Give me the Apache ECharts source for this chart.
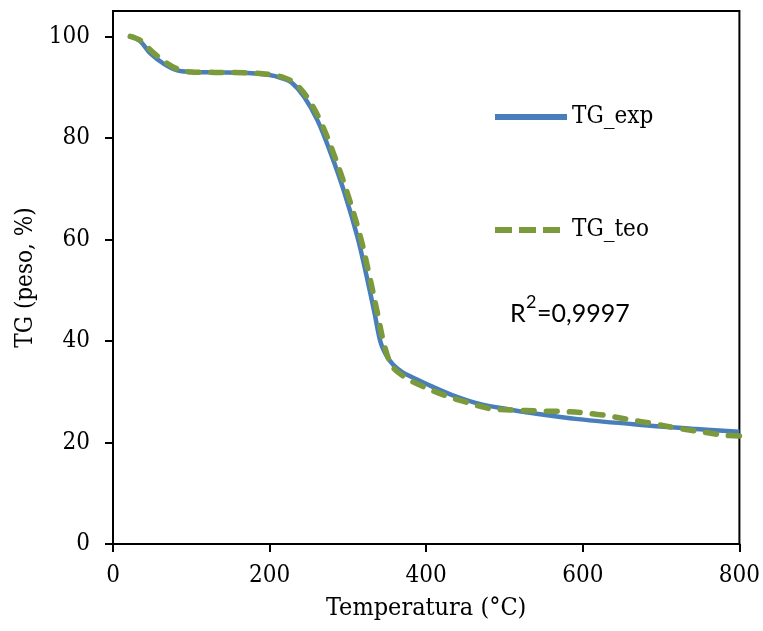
<!DOCTYPE html>
<html>
<head>
<meta charset="utf-8">
<script src="https://cdn.jsdelivr.net/npm/echarts@6/dist/echarts.min.js"></script>
<style>
  html, body { margin: 0; padding: 0; background: #fff; }
  #chart { width: 763px; height: 631px; }
</style>
</head>
<body>
<div id="chart"></div>
<script>
// Experimental thermogravimetric curve (temperature in °C, mass in %)
const tempExp = [24, 35, 48, 65, 82, 100, 130, 172, 200, 215, 228, 244, 261, 278, 295, 312, 323, 334, 342, 350, 358, 370, 391, 412, 434, 468, 506, 530, 594, 679, 740, 800];
const tgExp   = [100, 99, 96.6, 94.6, 93.3, 93.0, 92.9, 92.8, 92.4, 91.8, 90.9, 88.1, 83.5, 77.0, 69.5, 60.6, 53.4, 45.5, 39.6, 36.9, 35.3, 33.8, 32.2, 30.7, 29.3, 27.6, 26.5, 25.9, 24.6, 23.4, 22.7, 22.1];

// Theoretical (fitted) curve
const tempTeo = [22, 35, 50, 68, 85, 100, 130, 172, 200, 218, 232, 248, 265, 282, 299, 316, 327, 338, 346, 355, 366, 385, 425, 450, 480, 510, 544, 575, 604, 630, 659, 690, 723, 760, 782, 800];
const tgTeo   = [100, 99.2, 97, 94.8, 93.4, 93.0, 92.9, 92.8, 92.5, 91.9, 90.8, 88.0, 83.3, 76.8, 69.3, 60.5, 53.2, 45.3, 39.5, 35.4, 33.6, 31.8, 29.2, 28.0, 26.7, 26.4, 26.2, 26.1, 25.8, 25.3, 24.5, 23.7, 22.75, 21.9, 21.4, 21.3];

// Axis ticks
const xTicks = [0, 200, 400, 600, 800];
const yTicks = [0, 20, 40, 60, 80, 100];

const pairs = (xs, ys) => xs.map((x, i) => [x, ys[i]]);

const serif = '"DejaVu Serif Condensed", "DejaVu Serif", serif';
const sans = 'Lato, "Open Sans", sans-serif';
const blue = '#4A7EBB';
const green = '#7A9A3C';

// legend glyphs: solid bar and three dashes
const solidIcon = 'path://M0,0H72V6H0Z';
const dashIcon = 'path://M0,0H17V6H0Z M24,0H41V6H24Z M48,0H65V6H48Z';

const chart = echarts.init(document.getElementById('chart'));

chart.setOption({
  animation: false,
  backgroundColor: '#fff',
  grid: {
    left: 113, right: 23, top: 11, bottom: 87,
    show: true, borderColor: '#000', borderWidth: 2, backgroundColor: 'transparent'
  },
  legend: [
    {
      left: 495, top: 105, padding: 0,
      itemWidth: 72, itemHeight: 6, itemGap: 0,
      textStyle: { fontFamily: serif, fontSize: 24, color: '#000' },
      data: [{ name: 'TG_exp', icon: solidIcon }]
    },
    {
      left: 495, top: 218, padding: 0,
      itemWidth: 65, itemHeight: 6, itemGap: 0,
      textStyle: { fontFamily: serif, fontSize: 24, color: '#000', padding: [0, 0, 0, 7] },
      data: [{ name: 'TG_teo', icon: dashIcon }]
    }
  ],
  xAxis: {
    type: 'value',
    min: 0, max: 800, interval: 200,
    name: 'Temperatura (°C)',
    nameLocation: 'middle',
    nameGap: 52,
    nameTextStyle: { fontFamily: serif, fontSize: 25, color: '#000' },
    axisLine: { show: true, lineStyle: { color: '#000', width: 2 } },
    axisTick: { show: true, length: 8, lineStyle: { color: '#000', width: 2 }, customValues: xTicks },
    axisLabel: { margin: 20, fontFamily: serif, fontSize: 24, color: '#000', customValues: xTicks },
    splitLine: { show: false }
  },
  yAxis: {
    type: 'value',
    min: 0, max: 105, interval: 20,
    name: 'TG (peso, %)',
    nameLocation: 'middle',
    nameGap: 74,
    nameTextStyle: { fontFamily: serif, fontSize: 24, color: '#000' },
    axisLine: { show: true, lineStyle: { color: '#000', width: 2 } },
    axisTick: { show: true, length: 8, lineStyle: { color: '#000', width: 2 }, customValues: yTicks },
    axisLabel: { margin: 23, fontFamily: serif, fontSize: 24, color: '#000', customValues: yTicks },
    splitLine: { show: false }
  },
  series: [
    {
      name: 'TG_exp',
      type: 'line',
      data: pairs(tempExp, tgExp),
      showSymbol: false,
      symbol: 'none',
      smooth: 0.35,
      lineStyle: { color: blue, width: 4.5 },
      itemStyle: { color: blue },
      z: 2
    },
    {
      name: 'TG_teo',
      type: 'line',
      data: pairs(tempTeo, tgTeo),
      showSymbol: false,
      symbol: 'none',
      smooth: 0.35,
      lineStyle: { color: green, width: 5.5, type: [11, 12], cap: 'round' },
      itemStyle: { color: green },
      z: 3
    }
  ],
  graphic: [
    {
      type: 'group',
      left: 510, top: 293,
      children: [
        { type: 'text', x: 0, y: 12, style: { text: 'R', fontFamily: sans, fontSize: 25, fill: '#000' } },
        { type: 'text', x: 16, y: 4, style: { text: '2', fontFamily: sans, fontSize: 18, fill: '#000' } },
        { type: 'text', x: 27, y: 12, style: { text: '=0,9997', fontFamily: sans, fontSize: 25, fill: '#000' } }
      ]
    }
  ]
});
</script>
</body>
</html>
